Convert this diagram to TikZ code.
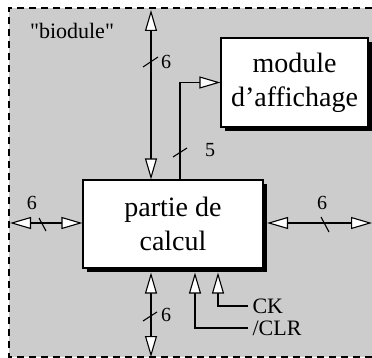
\documentclass[tikz,border=0pt]{standalone}
\usepackage{fontspec}
\setmainfont{Liberation Serif}
\usepackage{xcolor}
\definecolor{fondgris}{RGB}{204, 204, 204}
\usetikzlibrary{arrows.meta, positioning, calc, shadows}

\begin{document}
\begin{tikzpicture}[x=1pt, y=-1pt, line width=1.1pt,
    pointe/.tip={Triangle[length=21pt, width=12pt, fill=white]},
    bus/.style={pointe-pointe},
    fleche/.style={-pointe},
    bloc/.style={draw, fill=white, align=center, inner sep=0pt,
        font=\fontsize{28}{34}\selectfont,
        drop shadow={shadow xshift=3.5pt, shadow yshift=-4pt, fill=black, opacity=1}},
    nombre/.style={inner sep=0pt, font=\fontsize{20}{24}\selectfont},
    texte/.style={inner sep=0pt, font=\fontsize{22}{26}\selectfont}]
    \useasboundingbox (0,0) rectangle (372,358);
    % fond du biodule
    \fill[fondgris] (9,8) rectangle (372,357);
    \draw[dash pattern=on 7pt off 5pt] (372,8) -- (9,8) -- (9,357) -- (372,357);
    \node[texte] (biod) at (72,31) {\textquotedbl biodule\textquotedbl};

    % blocs
    \node[bloc, minimum width=180pt, minimum height=88pt] (calc) at (173,224) {partie de\\calcul};
    \node[bloc, minimum width=147pt, minimum height=89pt] (aff) at (294.5,82.5) {module\\d'affichage};

    % bus
    \coordinate (haut) at (151,10);
    \coordinate (bas) at (151,357);
    \coordinate (gauche) at (10,223);
    \coordinate (droite) at (372,223);
    \coordinate (sortie) at (180,0);
    \draw[bus] (haut) -- (haut |- calc.north);
    \draw[bus] ($(bas |- calc.south)+(0,4)$) -- (bas);
    \draw[bus] (gauche) -- (gauche -| calc.west);
    \draw[bus] ($(droite -| calc.east)+(3.5,0)$) -- (droite);
    \draw[fleche] (sortie |- calc.north) |- (aff.west);

    % largeurs des bus
    \draw (143,67) -- (158,57);
    \node[nombre] (n1) at (166,62) {6};
    \draw (143,321) -- (157,312);
    \node[nombre] (n2) at (166,315) {6};
    \draw (39,218) -- (46,231);
    \node[nombre] (n3) at (32,203) {6};
    \draw (321,217) -- (329,232);
    \node[nombre] (n4) at (322,203) {6};
    \draw (173,157) -- (187,148);
    \node[nombre] (n5) at (210,150) {5};

    % horloge et remise a zero
    \node[texte, anchor=west] (ck) at (252,306) {CK};
    \node[texte, anchor=west] (clr) at (252,328) {/CLR};
    \coordinate (ckin) at ($(calc.south)+(45,4)$);
    \coordinate (clrin) at ($(calc.south)+(22,4)$);
    \draw[fleche] ($(ck.west)+(-4,0)$) -| (ckin);
    \draw[fleche] ($(clr.west)+(-4,0)$) -| (clrin);
\end{tikzpicture}
\end{document}
